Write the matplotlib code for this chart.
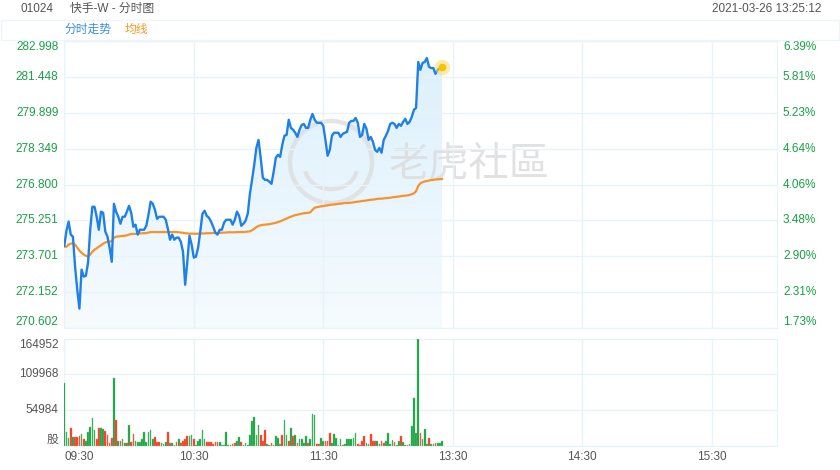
import numpy as np
import matplotlib
matplotlib.use('Agg')
import matplotlib.pyplot as plt
from matplotlib.patches import Ellipse, Arc, Rectangle
from matplotlib.colors import LinearSegmentedColormap

plt.rcParams['font.family'] = ['Liberation Sans', 'Noto Sans CJK SC', 'DejaVu Sans']
plt.rcParams['axes.unicode_minus'] = False

# 分时数据：09:30 起每分钟一个点（港股午休不计），截至 13:25
price = [
    274.16, 274.81, 275.20, 274.64, 274.55, 273.26, 272.27, 271.45, 273.13, 272.83,
    272.87, 273.43, 274.85, 275.84, 275.84, 275.41, 274.85, 275.63, 275.58, 274.77,
    274.55, 274.08, 273.47, 275.97, 275.63, 275.41, 275.11, 275.41, 275.41, 275.63,
    275.88, 275.58, 274.98, 275.07, 274.64, 274.85, 274.85, 274.85, 275.02, 275.50,
    276.06, 275.97, 275.71, 275.32, 275.41, 275.41, 275.41, 275.28, 274.89, 274.42,
    274.64, 274.42, 274.51, 274.51, 274.33, 273.90, 272.48, 273.47, 274.59, 274.21,
    273.65, 273.69, 274.08, 274.77, 275.54, 275.67, 275.45, 275.37, 275.20, 274.98,
    274.72, 274.64, 274.85, 274.85, 275.15, 275.28, 275.28, 275.28, 275.07, 275.28,
    275.63, 275.45, 275.02, 275.11, 275.24, 275.54, 276.40, 277.00, 277.65, 278.38,
    278.72, 277.95, 277.09, 277.00, 277.00, 276.92, 276.83, 277.35, 277.95, 278.08,
    277.99, 278.51, 278.90, 278.94, 279.59, 279.24, 279.16, 279.03, 278.85, 279.16,
    279.37, 279.41, 279.24, 279.24, 279.59, 279.84, 279.59, 279.46, 279.46, 279.46,
    279.33, 278.72, 278.04, 278.29, 278.90, 279.03, 279.03, 279.03, 278.85, 278.98,
    279.03, 279.07, 279.46, 279.54, 279.54, 279.67, 279.46, 278.85, 278.94, 279.41,
    279.20, 278.72, 278.85, 278.64, 278.29, 278.21, 278.38, 278.17, 278.72, 278.90,
    279.11, 279.41, 279.46, 279.41, 279.24, 279.41, 279.33, 279.50, 279.63, 279.41,
    279.50, 279.71, 280.02, 280.10, 282.08, 281.74, 282.04, 282.08, 282.25, 281.87,
    281.82, 281.82, 281.57, 281.74, 281.82, 281.87,
]

avg_price = [
    274.12, 274.12, 274.21, 274.25, 274.27, 274.21, 274.08, 273.95, 273.86, 273.78,
    273.73, 273.70, 273.78, 273.90, 273.99, 274.05, 274.12, 274.18, 274.25, 274.30,
    274.33, 274.34, 274.36, 274.51, 274.55, 274.56, 274.57, 274.58, 274.59, 274.61,
    274.64, 274.67, 274.67, 274.67, 274.68, 274.69, 274.70, 274.70, 274.71, 274.73,
    274.75, 274.75, 274.75, 274.75, 274.75, 274.75, 274.75, 274.75, 274.75, 274.75,
    274.75, 274.75, 274.75, 274.74, 274.73, 274.72, 274.70, 274.69, 274.68, 274.68,
    274.68, 274.68, 274.68, 274.68, 274.69, 274.69, 274.70, 274.70, 274.70, 274.71,
    274.71, 274.71, 274.72, 274.72, 274.73, 274.73, 274.74, 274.74, 274.74, 274.74,
    274.75, 274.75, 274.75, 274.75, 274.76, 274.77, 274.78, 274.83, 274.89, 274.96,
    275.02, 275.04, 275.06, 275.07, 275.08, 275.09, 275.11, 275.13, 275.15, 275.18,
    275.21, 275.25, 275.29, 275.33, 275.38, 275.41, 275.45, 275.48, 275.50, 275.52,
    275.54, 275.56, 275.57, 275.58, 275.60, 275.71, 275.80, 275.82, 275.84, 275.86,
    275.87, 275.89, 275.90, 275.92, 275.93, 275.94, 275.95, 275.97, 275.97, 275.99,
    276.00, 276.00, 276.01, 276.02, 276.03, 276.05, 276.06, 276.07, 276.09, 276.10,
    276.11, 276.13, 276.14, 276.15, 276.16, 276.18, 276.19, 276.19, 276.20, 276.21,
    276.22, 276.23, 276.25, 276.26, 276.27, 276.28, 276.30, 276.31, 276.32, 276.33,
    276.35, 276.38, 276.42, 276.51, 276.74, 276.85, 276.90, 276.93, 276.95, 276.97,
    276.99, 277.00, 277.02, 277.02, 277.03, 277.04,
]

volume = [
    96000, 20500, 12000, 28000, 14000, 13000, 14000, 15000, 18000, 11000,
    7000, 21500, 29000, 42600, 23600, 11000, 26700, 26700, 26000, 23000,
    16400, 4600, 11800, 103600, 39500, 7000, 8000, 11000, 4600, 3600,
    31800, 6000, 18500, 7000, 5000, 6000, 10000, 20500, 5000, 21500,
    24000, 10000, 14000, 5000, 5000, 4000, 2600, 5600, 21500, 4000,
    3600, 1000, 6000, 9700, 4600, 7000, 10000, 15000, 15000, 16400,
    9700, 1000, 7000, 10000, 24000, 11000, 5000, 5000, 5000, 2600,
    5600, 5000, 6000, 500, 1000, 21000, 1000, 1000, 2600, 4600,
    7000, 13000, 5000, 1000, 3600, 500, 16400, 38000, 44000, 16000,
    31800, 16400, 7000, 24000, 2600, 800, 3600, 1000, 15000, 12000,
    2600, 16400, 40000, 17000, 8000, 26700, 15000, 16400, 4600, 10000,
    10000, 4600, 15000, 4600, 11000, 49000, 47000, 2600, 2600, 12000,
    7000, 7000, 8000, 19000, 4600, 18000, 12000, 1000, 11000, 1000,
    2600, 10000, 10000, 10000, 12000, 20000, 2000, 1000, 8000, 15000,
    4600, 2000, 18000, 7000, 7000, 7000, 2000, 7000, 4600, 7000,
    19000, 2000, 9000, 5000, 1000, 7000, 15000, 5000, 1000, 1000,
    2000, 31000, 73000, 20000, 164952, 20000, 11000, 25000, 2000, 12000,
    2000, 2000, 4600, 4600, 4600, 7000,
]

# g = 上涨(绿), r = 下跌(红)
vol_dir = ('gggrgrrrgr' 'gggggrrggr' 'rrrgrgrggr' 'grrggggggg' 'ggrrrgggrr'
           'ggrgrrrrgg' 'rgggggrrrr' 'rrggggggrr' 'ggrggggggg' 'grrrggrrgg'
           'grggrgrgrg' 'gggrgggrrg' 'grrrgggggr' 'ggggggrrrr' 'ggrrrggrrg'
           'gggrggrggr' 'gggggrgggr' 'ggrggg')

price_ticks = [282.998, 281.448, 279.899, 278.349, 276.800, 275.251, 273.701, 272.152, 270.602]
price_labels = ['282.998', '281.448', '279.899', '278.349', '276.800', '275.251', '273.701', '272.152', '270.602']
pct_labels = ['6.39%', '5.81%', '5.23%', '4.64%', '4.06%', '3.48%', '2.90%', '2.31%', '1.73%']
vol_ticks = [164952, 109968, 54984, 0]
vol_labels = ['164952', '109968', '54984', '股']
time_ticks = [0, 60, 120, 180, 240, 300]
time_labels = ['09:30', '10:30', '11:30', '13:30', '14:30', '15:30']
total_minutes = 330

green = '#17a043'
grid_c = '#e8f3f9'
gray = '#555555'

fig = plt.figure(figsize=(8.4, 4.7), dpi=100)
W, H = 840, 470

def fx(px):
    return px / W

def fy(py):
    return 1 - py / H

ax = fig.add_axes([fx(64.3), fy(328.3), fx(776.5 - 64.3), (328.3 - 40.7) / H])
axv = fig.add_axes([fx(64.3), fy(445.7), fx(776.5 - 64.3), (445.7 - 338.5) / H])

x = np.arange(len(price))

# 价格面板
ax.set_xlim(0, total_minutes)
ax.set_ylim(price_ticks[-1], price_ticks[0])
ax.set_yticks(price_ticks)
ax.set_xticks(time_ticks)
ax.grid(True, color=grid_c, lw=1)
ax.tick_params(length=0, labelleft=False, labelbottom=False)
for s in ax.spines.values():
    s.set_color(grid_c)

fill = ax.fill_between(x, price, price_ticks[-1], facecolor='none', edgecolor='none')
grad = np.linspace(0, 1, 256).reshape(-1, 1)
cmap = LinearSegmentedColormap.from_list('fill', ['#f6fbfe', '#dcf0fc'])
img = ax.imshow(grad, cmap=cmap, aspect='auto', origin='lower', zorder=1,
                extent=[0, len(price) - 1, price_ticks[-1], max(price)])
img.set_clip_path(fill.get_paths()[0], transform=ax.transData)
ax.set_xlim(0, total_minutes)
ax.set_ylim(price_ticks[-1], price_ticks[0])

# 水印
ax.add_patch(Ellipse((0.3745, 0.578), 82 / 712.2, 82 / 287.6, transform=ax.transAxes,
                     fill=False, ec='#dedede', lw=3.2, alpha=0.8, zorder=1.5))
ax.add_patch(Arc((0.3745, 0.56), 52 / 712.2, 44 / 287.6, theta1=200, theta2=340,
                 transform=ax.transAxes, ec='#dedede', lw=3, alpha=0.8, zorder=1.5))
ax.text(0.568, 0.57, '老虎社區', transform=ax.transAxes, ha='center', va='center',
        fontsize=29, color='#dcdcdc', alpha=0.85, zorder=1.5)

ax.plot(x, avg_price, color='#f7932a', lw=1.6, zorder=3)
ax.plot(x, price, color='#1f80e8', lw=1.7, zorder=4)
ax.plot(x[-1], price[-1], 'o', ms=11, color='#f8dc62', alpha=0.55, mec='none', zorder=5)
ax.plot(x[-1], price[-1], 'o', ms=5.5, color='#f5c400', mec='none', zorder=6)

ytr = ax.get_yaxis_transform()
n = len(price_ticks)
for i, (v, lab, pct) in enumerate(zip(price_ticks, price_labels, pct_labels)):
    va = 'top' if i == 0 else ('bottom' if i == n - 1 else 'center')
    ax.text(-0.0084, v, lab, transform=ytr, ha='right', va=va, color=green, fontsize=8.5)
    ax.text(1.0091, v, pct, transform=ytr, ha='left', va=va, color=green, fontsize=8.5)

# 成交量面板
bar_c = ['#17a03b' if d == 'g' else '#f3371f' for d in vol_dir]
edge_c = ['#6cc487' if d == 'g' else '#f77c68' for d in vol_dir]
axv.bar(x, volume, width=0.78, color=bar_c, edgecolor=edge_c, linewidth=0.3, zorder=3)
axv.set_xlim(0, total_minutes)
axv.set_ylim(0, vol_ticks[0])
axv.set_yticks(vol_ticks)
axv.set_xticks(time_ticks)
axv.grid(True, color=grid_c, lw=1)
axv.tick_params(length=0, labelleft=False, labelbottom=False)
for s in axv.spines.values():
    s.set_color(grid_c)

vtr = axv.get_yaxis_transform()
for i, (v, lab) in enumerate(zip(vol_ticks, vol_labels)):
    va = 'top' if i == 0 else ('bottom' if i == len(vol_ticks) - 1 else 'center')
    axv.text(-0.0084, v, lab, transform=vtr, ha='right', va=va, color=gray, fontsize=8.5)

xtr = axv.get_xaxis_transform()
for i, (t, lab) in enumerate(zip(time_ticks, time_labels)):
    axv.text(t, -0.105, lab, transform=xtr, ha='left' if i == 0 else 'center',
             va='center', color=gray, fontsize=8.5)

# 顶部信息栏
fig.patches.append(Rectangle((fx(0.5), fy(40.2)), fx(838), (40.2 - 20.5) / H,
                             transform=fig.transFigure, fill=False, ec='#eef5fa', lw=1))
fig.text(fx(20.5), fy(8.5), '01024', ha='left', va='center', color=gray, fontsize=8.5)
fig.text(fx(70.5), fy(8.5), '快手-W - 分时图', ha='left', va='center', color=gray, fontsize=8.5)
fig.text(fx(821), fy(8.5), '2021-03-26 13:25:12', ha='right', va='center', color=gray, fontsize=8.5)
fig.text(fx(64.3), fy(30), '分时走势', ha='left', va='center', color='#3a8ee6', fontsize=8.5)
fig.text(fx(124.3), fy(30), '均线', ha='left', va='center', color='#f59a23', fontsize=8.5)

fig.savefig('out.png', dpi=100)
